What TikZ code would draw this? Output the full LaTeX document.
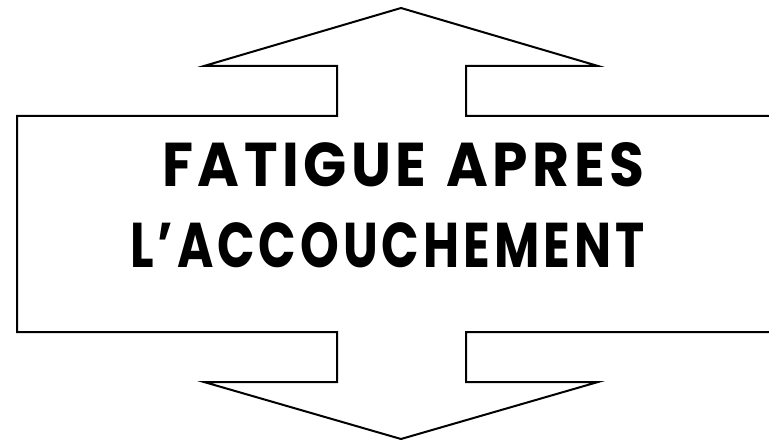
\documentclass[tikz,border=0pt]{standalone}
\usepackage{fontspec}
\setmainfont{Poppins}[LetterSpace=8]
\usepackage{graphicx}
\begin{document}
\begin{tikzpicture}[x=1pt,y=-1pt,
  outline/.style={draw=black,line width=2pt,line join=miter,fill=white},
  label/.style={inner sep=0pt,anchor=west,font=\bfseries}]
\useasboundingbox (0,0) rectangle (769,441);
\fill[white] (0,0) rectangle (769,441);
\begin{scope}
\clip (0,0) rectangle (769,441);
\draw[outline] (17,116) -- (337,116) -- (337,66) -- (204,66) -- (401,8) -- (598,66)
  -- (466,66) -- (466,116) -- (790,116) -- (790,332) -- (466,332) -- (466,382)
  -- (598,382) -- (401,439) -- (204,382) -- (337,382) -- (337,332) -- (17,332) -- cycle;
\end{scope}
\node[label] (t1) at (162,165) {\resizebox{482pt}{44pt}{\bfseries FATIGUE\hspace{0.35em}APRES}};
\node[label] (t2) at (130,245.5) {\resizebox{514pt}{45pt}{\bfseries L’ACCOUCHEMENT}};
\end{tikzpicture}
\end{document}
